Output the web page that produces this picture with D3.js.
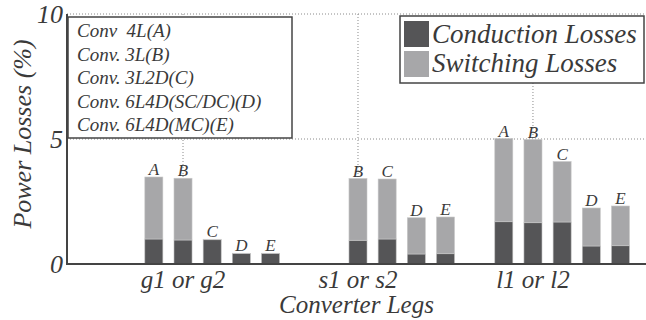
<!DOCTYPE html>
<html>
<head>
<meta charset="utf-8">
<script src="https://d3js.org/d3.v7.min.js"></script>
<style>
    body { margin: 0; background: #fff; }
    .grid { stroke: #8a8a8a; stroke-width: 1; stroke-dasharray: 1,2; }
    .axisline { stroke: #444; stroke-width: 2; }
</style>
</head>
<body>
<script>
    // data
    var categories = ["g1 or g2", "s1 or s2", "l1 or l2"];
    var converters = ["A", "B", "C", "D", "E"];
    var converterNames = ["Conv  4L(A)", "Conv. 3L(B)", "Conv. 3L2D(C)", "Conv. 6L4D(SC/DC)(D)", "Conv. 6L4D(MC)(E)"];
    // null = no bar for that converter
    var conduction = [
        [1.00, 0.96, 0.97, 0.42, 0.42],
        [null, 0.95, 1.00, 0.40, 0.41],
        [1.69, 1.65, 1.68, 0.72, 0.73]
    ];
    var switching = [
        [2.48, 2.47, 0.02, 0.01, 0.01],
        [null, 2.47, 2.40, 1.45, 1.47],
        [3.33, 3.33, 2.42, 1.52, 1.59]
    ];
    var yTicks = [0, 5, 10];
    var seriesNames = ["Conduction Losses", "Switching Losses"];
    var colors = ["#555557", "#a7a7a9"];

    var width = 646, height = 320;
    var mLeft = 67, mRight = 646, mTop = 14, mBottom = 264;
    var serif = "Liberation Serif, DejaVu Serif, serif";

    var svg = d3.select("body").append("svg")
        .attr("width", width)
        .attr("height", height);

    // helper so every label gets the same italic look
    function label(sel, size) {
        return sel.attr("font-family", serif)
            .attr("font-style", "italic")
            .attr("font-size", size)
            .attr("fill", "#3a3a3a");
    }

    var x = d3.scaleLinear().domain([0.337, 3.646]).range([mLeft, mRight]);
    var y = d3.scaleLinear().domain([0, 10]).range([mBottom, mTop]);
    var step = 0.1667, barW = x(0.103) - x(0);

    // grid
    svg.append("g").selectAll("line")
        .data([5, 10]).enter().append("line")
        .attr("class", "grid")
        .attr("x1", mLeft).attr("x2", mRight)
        .attr("y1", function(d) { return y(d); })
        .attr("y2", function(d) { return y(d); });
    svg.append("g").selectAll("line")
        .data(categories).enter().append("line")
        .attr("class", "grid")
        .attr("x1", function(d, i) { return x(i + 1); })
        .attr("x2", function(d, i) { return x(i + 1); })
        .attr("y1", mTop).attr("y2", mBottom);

    // bars
    var bars = [];
    categories.forEach(function(c, i) {
        converters.forEach(function(k, j) {
            if (conduction[i][j] == null) return;
            bars.push({cat: i, conv: k, pos: i + 1 + (j - 1) * step,
                       c: conduction[i][j], s: switching[i][j]});
        });
    });

    var bg = svg.append("g");
    bars.forEach(function(b) {
        var bx = x(b.pos) - barW / 2;
        bg.append("rect")
            .attr("x", bx).attr("width", barW)
            .attr("y", y(b.c)).attr("height", y(0) - y(b.c))
            .attr("fill", colors[0]).attr("stroke", "#bdbdbd").attr("stroke-width", 0.6);
        bg.append("rect")
            .attr("x", bx).attr("width", barW)
            .attr("y", y(b.c + b.s)).attr("height", y(b.c) - y(b.c + b.s))
            .attr("fill", colors[1]).attr("stroke", "#c8c8c8").attr("stroke-width", 0.6);
        label(bg.append("text"), 17)
            .attr("x", x(b.pos)).attr("y", y(b.c + b.s) - 2)
            .attr("text-anchor", "middle")
            .text(b.conv);
    });

    // axes
    svg.append("line").attr("class", "axisline")
        .attr("x1", mLeft).attr("x2", mLeft).attr("y1", mTop).attr("y2", mBottom + 1);
    svg.append("line").attr("class", "axisline")
        .attr("x1", mLeft - 1).attr("x2", mRight).attr("y1", mBottom).attr("y2", mBottom);

    label(svg.append("g").selectAll("text")
        .data(yTicks).enter().append("text"), 26)
        .attr("x", mLeft - 4)
        .attr("y", function(d) { return y(d); })
        .attr("dy", "0.33em")
        .attr("text-anchor", "end")
        .text(function(d) { return d; });

    label(svg.append("g").selectAll("text")
        .data(categories).enter().append("text"), 25)
        .attr("x", function(d, i) { return x(i + 1); })
        .attr("y", mBottom + 24)
        .attr("text-anchor", "middle")
        .text(function(d) { return d; });

    label(svg.append("text"), 25)
        .attr("x", (mLeft + mRight) / 2).attr("y", 313)
        .attr("text-anchor", "middle")
        .text("Converter Legs");

    label(svg.append("text"), 26)
        .attr("transform", "translate(31,134) rotate(-90)")
        .attr("text-anchor", "middle")
        .text("Power Losses (%)");

    // converter legend
    var lg1 = svg.append("g");
    lg1.append("rect")
        .attr("x", 68).attr("y", 17).attr("width", 224).attr("height", 121)
        .attr("fill", "#fff").attr("stroke", "#444").attr("stroke-width", 1.5);
    label(lg1.selectAll("text")
        .data(converterNames).enter().append("text"), 19)
        .attr("x", 77)
        .attr("y", function(d, i) { return 37 + i * 23.5; })
        .attr("xml:space", "preserve")
        .style("white-space", "pre")
        .text(function(d) { return d; });

    // series legend
    var lg2 = svg.append("g");
    lg2.append("rect")
        .attr("x", 400).attr("y", 16).attr("width", 244).attr("height", 67)
        .attr("fill", "#fff").attr("stroke", "#444").attr("stroke-width", 1.5);
    seriesNames.forEach(function(s, i) {
        lg2.append("rect")
            .attr("x", 404).attr("y", 21 + i * 30)
            .attr("width", 25).attr("height", 26)
            .attr("fill", colors[i]);
        label(lg2.append("text"), 27)
            .attr("x", 432).attr("y", 43 + i * 29)
            .text(s);
    });
</script>
</body>
</html>
